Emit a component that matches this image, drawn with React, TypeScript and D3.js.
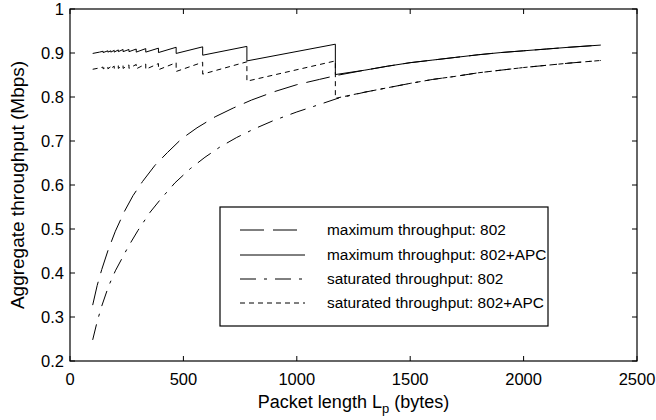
import React from "react";
import * as d3 from "d3";

const xTicks = [0, 500, 1000, 1500, 2000, 2500];
const yTicks = [0.2, 0.3, 0.4, 0.5, 0.6, 0.7, 0.8, 0.9, 1];
const yTickLabels = ["0.2", "0.3", "0.4", "0.5", "0.6", "0.7", "0.8", "0.9", "1"];

// maximum throughput: 802 (long dash)
const max802L = [100, 120, 140, 168, 200, 240, 278, 320, 375, 430, 492, 560, 640, 720, 800, 900, 1000, 1100, 1175, 1300, 1400, 1500, 1600, 1700, 1800, 1900, 2000, 2100, 2200, 2340];
const max802V = [0.327, 0.372, 0.408, 0.452, 0.495, 0.54, 0.576, 0.608, 0.645, 0.674, 0.705, 0.73, 0.755, 0.775, 0.793, 0.812, 0.828, 0.840, 0.849, 0.861, 0.870, 0.878, 0.884, 0.890, 0.896, 0.901, 0.905, 0.909, 0.913, 0.918];

// maximum throughput: 802+APC (solid)
const maxApcL = [100, 130, 146, 146, 167, 167, 180, 180, 195, 195, 213, 213, 234, 234, 260, 260, 292, 292, 334, 334, 390, 390, 468, 468, 585, 585, 780, 780, 1170, 1170, 1300, 1400, 1500, 1600, 1700, 1800, 1900, 2000, 2100, 2200, 2340];
const maxApcV = [0.899, 0.902, 0.904, 0.901, 0.905, 0.902, 0.905, 0.902, 0.906, 0.902, 0.907, 0.903, 0.908, 0.903, 0.908, 0.903, 0.909, 0.902, 0.910, 0.902, 0.911, 0.901, 0.913, 0.899, 0.914, 0.895, 0.915, 0.882, 0.920, 0.851, 0.861, 0.870, 0.878, 0.884, 0.890, 0.896, 0.901, 0.905, 0.909, 0.913, 0.918];

// saturated throughput: 802 (dash-dot)
const sat802L = [100, 120, 140, 170, 200, 257, 300, 353, 400, 463, 530, 595, 660, 735, 810, 895, 1000, 1100, 1175, 1300, 1400, 1500, 1600, 1700, 1800, 1900, 2000, 2100, 2200, 2340];
const sat802V = [0.248, 0.29, 0.325, 0.37, 0.405, 0.46, 0.497, 0.538, 0.568, 0.605, 0.637, 0.663, 0.686, 0.708, 0.727, 0.746, 0.766, 0.783, 0.796, 0.811, 0.821, 0.831, 0.840, 0.847, 0.855, 0.861, 0.867, 0.872, 0.877, 0.883];

// saturated throughput: 802+APC (short dash)
const satApcL = [100, 130, 146, 146, 167, 167, 180, 180, 195, 195, 213, 213, 234, 234, 260, 260, 292, 292, 334, 334, 390, 390, 468, 468, 585, 585, 780, 780, 1170, 1170, 1300, 1400, 1500, 1600, 1700, 1800, 1900, 2000, 2100, 2200, 2340];
const satApcV = [0.863, 0.866, 0.868, 0.864, 0.869, 0.864, 0.869, 0.865, 0.870, 0.865, 0.871, 0.865, 0.872, 0.865, 0.873, 0.865, 0.874, 0.864, 0.875, 0.863, 0.876, 0.862, 0.878, 0.858, 0.879, 0.852, 0.880, 0.836, 0.882, 0.797, 0.811, 0.821, 0.831, 0.840, 0.847, 0.855, 0.861, 0.867, 0.872, 0.877, 0.883];

const seriesNames = [
  "maximum throughput: 802",
  "maximum throughput: 802+APC",
  "saturated throughput: 802",
  "saturated throughput: 802+APC",
];

export default function App() {
  const W = 656, H = 420;
  const PL = 70, PR = 637, PT = 9, PB = 361;
  const font = "'Liberation Sans', Arial, Helvetica, sans-serif";
  const x = d3.scaleLinear().domain([0, 2500]).range([PL, PR]);
  const y = d3.scaleLinear().domain([0.2, 1]).range([PB, PT]);
  const line = d3
    .line<[number, number]>()
    .x((d) => x(d[0]))
    .y((d) => y(d[1]));
  const zip = (a: number[], b: number[]) => a.map((v, i) => [v, b[i]] as [number, number]);

  const series = [
    { name: seriesNames[0], data: zip(max802L, max802V), dash: "24,9" },
    { name: seriesNames[1], data: zip(maxApcL, maxApcV), dash: "none" },
    { name: seriesNames[2], data: zip(sat802L, sat802V), dash: "16,8,3,8" },
    { name: seriesNames[3], data: zip(satApcL, satApcV), dash: "5,4" },
  ];

  const tick = 5;
  const legX = 220, legY = 207, legW = 328, legH = 119;
  const rowY = [230, 255, 279, 303];

  return (
    <svg
      width={W}
      height={H}
      style={{ position: "absolute", left: 0, top: 0, background: "#fff" }}
      fontFamily={font}
    >
      <rect x={0} y={0} width={W} height={H} fill="#fff" />
      {series.map((s, i) => (
        <path
          key={i}
          d={line(s.data) || ""}
          fill="none"
          stroke="#000"
          strokeWidth={1}
          strokeDasharray={s.dash}
        />
      ))}
      {/* axes box */}
      <rect x={PL} y={PT} width={PR - PL} height={PB - PT} fill="none" stroke="#000" strokeWidth={1.2} />
      {xTicks.map((t, i) => (
        <g key={"xt" + i}>
          <line x1={x(t)} x2={x(t)} y1={PB} y2={PB - tick} stroke="#000" />
          <line x1={x(t)} x2={x(t)} y1={PT} y2={PT + tick} stroke="#000" />
          <text x={x(t)} y={385} textAnchor="middle" fontSize={16.5}>
            {t}
          </text>
        </g>
      ))}
      {yTicks.map((t, i) => (
        <g key={"yt" + i}>
          <line x1={PL} x2={PL + tick} y1={y(t)} y2={y(t)} stroke="#000" />
          <line x1={PR} x2={PR - tick} y1={y(t)} y2={y(t)} stroke="#000" />
          <text x={64} y={y(t) + 6} textAnchor="end" fontSize={16.5}>
            {yTickLabels[i]}
          </text>
        </g>
      ))}
      {/* axis titles */}
      <text x={(PL + PR) / 2} y={408} textAnchor="middle" fontSize={18}>
        Packet length L<tspan fontSize={13} dy={5}>p</tspan>
        <tspan dy={-5}> (bytes)</tspan>
      </text>
      <text
        transform={`translate(24, ${(PT + PB) / 2}) rotate(-90)`}
        textAnchor="middle"
        fontSize={19}
      >
        Aggregate throughput (Mbps)
      </text>
      {/* legend */}
      <rect x={legX} y={legY} width={legW} height={legH} fill="#fff" stroke="#000" strokeWidth={1.2} />
      {series.map((s, i) => (
        <g key={"lg" + i}>
          <line
            x1={240}
            x2={305}
            y1={rowY[i]}
            y2={rowY[i]}
            stroke="#000"
            strokeWidth={1}
            strokeDasharray={s.dash}
          />
          <text x={327} y={rowY[i] + 5} fontSize={15.4}>
            {s.name}
          </text>
        </g>
      ))}
    </svg>
  );
}
